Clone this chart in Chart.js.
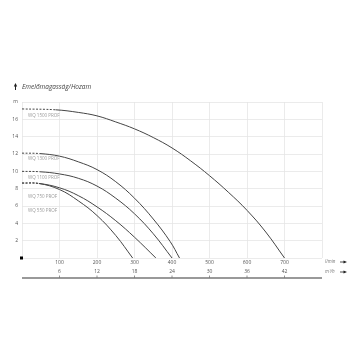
<!DOCTYPE html>
<html>
<head>
<meta charset="utf-8">
<script src="https://cdn.jsdelivr.net/npm/chart.js@4"></script>
<style>
  html, body { margin: 0; padding: 0; background: #fff; }
  #wrap { width: 360px; height: 360px; }
</style>
</head>
<body>
<div id="wrap"><canvas id="chart" width="360" height="360"></canvas></div>
<script>
// flow in l/min, head in m
const flow1500 = [0, 90, 150, 200, 250, 300, 350, 400, 450, 500, 550, 600, 650, 700];
const head1500 = [17.2, 17.1, 16.8, 16.4, 15.7, 14.9, 13.9, 12.7, 11.2, 9.5, 7.6, 5.5, 3.0, 0];
const flow1300 = [0, 48, 100, 150, 200, 250, 300, 350, 395, 420];
const head1300 = [12.1, 12.05, 11.75, 11.1, 10.2, 8.8, 6.9, 4.5, 1.9, 0];
const flow1100 = [0, 48, 100, 150, 200, 250, 300, 350, 400];
const head1100 = [10.0, 9.95, 9.7, 9.2, 8.3, 6.9, 5.1, 2.8, 0];
const flow750 = [0, 45, 100, 150, 200, 250, 300, 357];
const head750 = [8.65, 8.6, 8.1, 7.2, 5.9, 4.3, 2.4, 0];
const flow550 = [0, 45, 100, 150, 200, 250, 295];
const head550 = [8.65, 8.6, 7.9, 6.6, 4.9, 2.6, 0];

const pumpNames = ["WQ 1500 PROF", "WQ 1300 PROF", "WQ 1100 PROF", "WQ 750 PROF", "WQ 550 PROF"];
const labelHeads = [16.4, 11.4, 9.25, 7.05, 5.4];

const yTicks = [0, 2, 4, 6, 8, 10, 12, 14, 16, 18];
const lminTicks = [100, 200, 300, 400, 500, 600, 700];

const toPoints = (xs, ys) => xs.map((x, i) => ({x, y: ys[i]}));

const curveColor = "#454545";
const makeSet = (name, xs, ys) => ({
  label: name,
  data: toPoints(xs, ys),
  borderColor: curveColor,
  borderWidth: 1,
  pointRadius: 0,
  fill: false,
  tension: 0.4,
  segment: {
    borderDash: (ctx) => ctx.p0DataIndex === 0 ? [2, 1.5] : undefined,
  },
});

const tickFont = {family: "Open Sans", size: 5};

const decorations = {
  id: "decorations",
  afterDraw(chart) {
    const ctx = chart.ctx;
    const {left, right, bottom} = chart.chartArea;
    const y = chart.scales.y;
    const x2 = chart.scales.x2;

    ctx.save();
    // title + arrow
    ctx.fillStyle = "#444";
    ctx.font = "italic 6.5px 'Open Sans'";
    ctx.textBaseline = "middle";
    ctx.textAlign = "left";
    ctx.fillText("Emelőmagasság/Hozam", left, 87);
    ctx.strokeStyle = "#222";
    ctx.lineWidth = 1;
    ctx.beginPath();
    ctx.moveTo(15.5, 86);
    ctx.lineTo(15.5, 90);
    ctx.stroke();
    ctx.beginPath();
    ctx.moveTo(15.5, 83);
    ctx.lineTo(13.8, 86.5);
    ctx.lineTo(17.2, 86.5);
    ctx.closePath();
    ctx.fillStyle = "#222";
    ctx.fill();

    // curve names
    ctx.fillStyle = "#9a9a9a";
    ctx.font = "4.5px 'Open Sans'";
    pumpNames.forEach((name, i) => {
      ctx.fillText(name, left + 6, y.getPixelForValue(labelHeads[i]));
    });

    // origin mark
    ctx.fillStyle = "#000";
    ctx.fillRect(left - 2, bottom - 1.5, 3, 3);

    // bottom rule with ticks
    const lineY = x2.bottom;
    ctx.strokeStyle = "#777";
    ctx.lineWidth = 1.3;
    ctx.beginPath();
    ctx.moveTo(left, lineY);
    ctx.lineTo(right, lineY);
    ctx.stroke();
    ctx.lineWidth = 0.8;
    lminTicks.forEach((v) => {
      const px = x2.getPixelForValue(v);
      ctx.beginPath();
      ctx.moveTo(px, lineY - 2.5);
      ctx.lineTo(px, lineY);
      ctx.stroke();
    });

    // unit labels with arrows
    ctx.font = "italic 4.5px 'Open Sans'";
    const unitRows = [["l/min", chart.scales.x.top + 4], ["m³/h", x2.top + 4]];
    unitRows.forEach(([txt, ty]) => {
      ctx.fillStyle = "#777";
      ctx.fillText(txt, 325, ty);
      ctx.strokeStyle = "#222";
      ctx.lineWidth = 0.8;
      ctx.beginPath();
      ctx.moveTo(340, ty);
      ctx.lineTo(344, ty);
      ctx.stroke();
      ctx.fillStyle = "#222";
      ctx.beginPath();
      ctx.moveTo(347, ty);
      ctx.lineTo(343.5, ty - 1.6);
      ctx.lineTo(343.5, ty + 1.6);
      ctx.closePath();
      ctx.fill();
    });
    ctx.restore();
  },
};

new Chart(document.getElementById("chart"), {
  type: "line",
  data: {
    datasets: [
      makeSet(pumpNames[0], flow1500, head1500),
      makeSet(pumpNames[1], flow1300, head1300),
      makeSet(pumpNames[2], flow1100, head1100),
      makeSet(pumpNames[3], flow750, head750),
      makeSet(pumpNames[4], flow550, head550),
    ],
  },
  options: {
    responsive: false,
    animation: false,
    layout: {padding: {top: 102, right: 38, bottom: 82, left: 0}},
    plugins: {legend: {display: false}, tooltip: {enabled: false}},
    scales: {
      x: {
        type: "linear",
        min: 0,
        max: 800,
        afterFit: (s) => { s.height = 10; },
        afterBuildTicks: (s) => { s.ticks = [0, ...lminTicks, 800].map((v) => ({value: v})); },
        grid: {color: "#e6e6e6", lineWidth: 0.8, drawTicks: false},
        border: {display: false},
        ticks: {
          font: tickFont,
          color: "#555",
          padding: 2,
          maxRotation: 0,
          callback: (v) => lminTicks.includes(v) ? String(v) : "",
        },
      },
      x2: {
        type: "linear",
        position: "bottom",
        min: 0,
        max: 800,
        afterFit: (s) => { s.height = 10; },
        afterBuildTicks: (s) => { s.ticks = lminTicks.map((v) => ({value: v})); },
        grid: {display: false, drawTicks: false},
        border: {display: false},
        ticks: {
          font: tickFont,
          color: "#555",
          padding: 1,
          maxRotation: 0,
          callback: (v) => String(Math.round(v * 0.06)),
        },
      },
      y: {
        min: 0,
        max: 18,
        afterFit: (s) => { s.width = 22; },
        afterBuildTicks: (s) => { s.ticks = yTicks.map((v) => ({value: v})); },
        grid: {color: "#e6e6e6", lineWidth: 0.8, drawTicks: false},
        border: {display: false},
        ticks: {
          font: tickFont,
          color: "#555",
          padding: 4,
          callback: (v) => v === 18 ? "m" : v === 0 ? "" : String(v),
        },
      },
    },
  },
  plugins: [decorations],
});
</script>
</body>
</html>
